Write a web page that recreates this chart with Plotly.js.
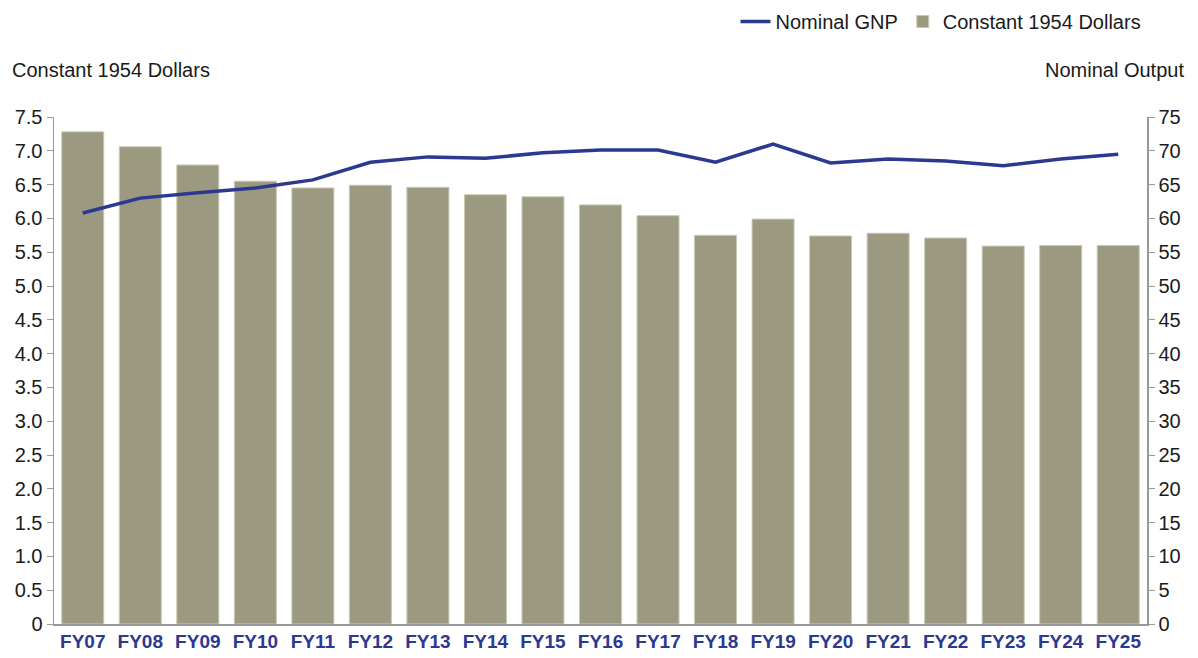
<!DOCTYPE html>
<html>
<head>
<meta charset="utf-8">
<script src="https://cdn.plot.ly/plotly-3.0.1.min.js"></script>
<style>html,body{margin:0;padding:0;background:#fff;}#chart{width:1198px;height:658px;}</style>
</head>
<body>
<div id="chart"></div>
<script>
const categories = ["FY07","FY08","FY09","FY10","FY11","FY12","FY13","FY14","FY15","FY16","FY17","FY18","FY19","FY20","FY21","FY22","FY23","FY24","FY25"];
const constant1954 = [7.28,7.06,6.79,6.55,6.45,6.49,6.46,6.35,6.32,6.20,6.04,5.75,5.99,5.74,5.78,5.71,5.59,5.60,5.60];
const nominalGNP = [60.8,63.0,63.8,64.5,65.7,68.3,69.1,68.9,69.7,70.1,70.1,68.3,71.0,68.2,68.8,68.5,67.8,68.8,69.5];
const leftTicks = [0,0.5,1,1.5,2,2.5,3,3.5,4,4.5,5,5.5,6,6.5,7,7.5];
const leftTickText = ["0","0.5","1.0","1.5","2.0","2.5","3.0","3.5","4.0","4.5","5.0","5.5","6.0","6.5","7.0","7.5"];
const rightTicks = [0,5,10,15,20,25,30,35,40,45,50,55,60,65,70,75];

const font = "Liberation Sans, Arial, sans-serif";
const data = [
  {type:"scatter", mode:"lines", name:"Nominal GNP", x:categories, y:nominalGNP, yaxis:"y2",
   line:{color:"#2b3990", width:3.5}},
  {type:"bar", name:"Constant 1954 Dollars", x:categories, y:constant1954,
   marker:{color:"#9b9a80", line:{color:"#c9c8b4", width:1}}}
];
const layout = {
  width:1198, height:658,
  margin:{l:54, r:51, t:117, b:34},
  paper_bgcolor:"#fff", plot_bgcolor:"#fff",
  font:{family:font, size:20, color:"#1a1a1a"},
  bargap:0.27,
  showlegend:true,
  legend:{orientation:"h", xref:"container", yref:"container", x:0.957, xanchor:"right", y:0.997, yanchor:"top",
    font:{size:20, color:"#1a1a1a"}, itemwidth:30, traceorder:"normal", bgcolor:"rgba(0,0,0,0)"},
  xaxis:{type:"category", showline:true, linecolor:"#999", linewidth:1.5, ticks:"", showgrid:false,
    tickfont:{family:font, size:19, color:"#2b3990", weight:"bold"}, range:[-0.5,18.5]},
  yaxis:{range:[0,7.5], tickvals:leftTicks, ticktext:leftTickText, showline:true, linecolor:"#999", linewidth:1.5,
    ticks:"outside", ticklen:6, tickcolor:"#999", showgrid:false, zeroline:false, tickfont:{size:20}},
  yaxis2:{range:[0,75], tickvals:rightTicks, overlaying:"y", side:"right", showline:true, linecolor:"#999", linewidth:1.5,
    ticks:"outside", ticklen:6, tickcolor:"#999", showgrid:false, zeroline:false, tickfont:{size:20}},
  annotations:[
    {text:"Constant 1954 Dollars", xref:"paper", yref:"paper", x:-0.04, xanchor:"left", y:1.093, yanchor:"middle", showarrow:false, font:{size:20}},
    {text:"Nominal Output", xref:"paper", yref:"paper", x:1.036, xanchor:"right", y:1.093, yanchor:"middle", showarrow:false, font:{size:20}}
  ]
};
Plotly.newPlot("chart", data, layout, {displayModeBar:false, staticPlot:true});
</script>
</body>
</html>
